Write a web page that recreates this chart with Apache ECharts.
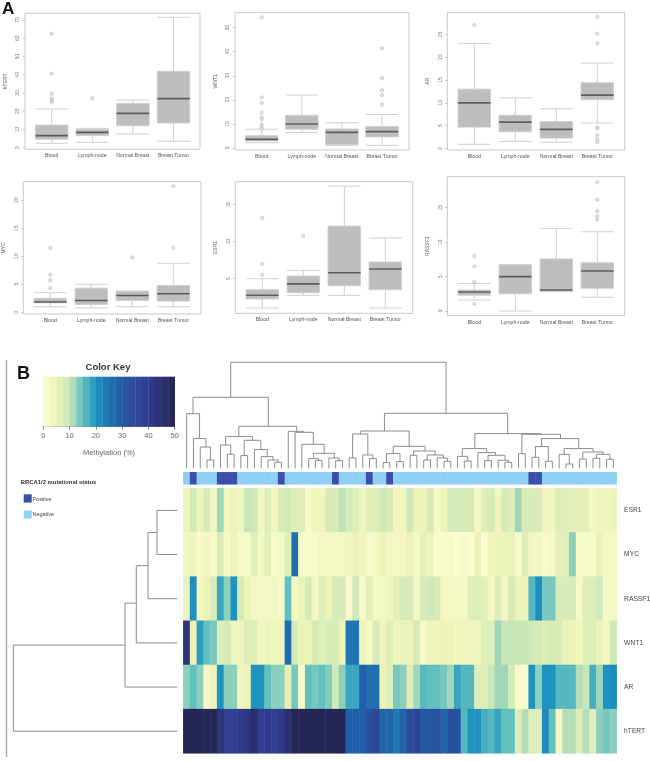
<!DOCTYPE html>
<html>
<head>
<meta charset="utf-8">
<style>html,body{margin:0;padding:0;background:#fff}#chart{width:650px;height:761px}</style>
<script src="https://cdn.jsdelivr.net/npm/echarts@6/dist/echarts.min.js"></script>
</head>
<body>
<div id="chart"></div>
<script>
// ---------- Panel A: boxplots ([low whisker, q1, median, q3, high whisker]) ----------
const tissues = ['Blood', 'Lymph-node', 'Normal Breast', 'Breast Tumor'];

const htertBox = [[2.4,4.6,6.6,12.4,21.2],[2.9,6.6,8.4,9.9,10.6],[7.5,12,18.8,24.3,26.1],[3.5,13.5,26.9,41.9,71.5]];
const htertOut = [[0,62.5],[0,40.6],[0,29.6],[0,27],[0,26],[0,25],[1,27]];
const htertTicks = [0,10,20,30,40,50,60,70];

const wnt1Box = [[2.2,3,3.6,5.1,7.8],[6.4,7.8,10,13.6,22],[1.1,1.5,6.5,7.9,10.5],[1.1,4.6,6.8,8.9,13.9]];
const wnt1Out = [[0,54.3],[0,21],[0,18.7],[0,14.7],[0,12.7],[0,12],[0,9.8],[0,8.9],[0,8],[3,41.4],[3,29],[3,24],[3,22],[3,18]];
const wnt1Ticks = [0,10,20,30,40,50];

const arBox = [[0.95,4.7,10,13,23],[1.6,3.7,5.8,7.3,11.1],[1.4,2.3,4.2,5.9,8.7],[5.6,10.7,11.7,14.4,18.7]];
const arOut = [[0,27],[3,28.8],[3,25.1],[3,23],[3,4.6],[3,4.4],[3,2.9],[3,2],[3,1.4]];
const arTicks = [0,5,10,15,20,25];

const mycBox = [[1,1.7,1.85,2.5,3.5],[0.8,1.4,2.1,4.3,5],[1,2.1,3,3.75,3.8],[1,2,3.3,4.8,8.75]];
const mycOut = [[0,11.5],[0,6.7],[0,5.7],[0,4.3],[2,9.8],[3,22.5],[3,11.5]];
const mycTicks = [0,5,10,15,20];

const esr1Box = [[1.04,2.25,2.75,3.5,5],[2.75,3.1,4.3,5.35,6.1],[2.75,4.05,5.8,12.1,17.5],[1.04,3.5,6.3,7.25,10.5]];
const esr1Out = [[0,13.2],[0,7],[0,5.5],[1,10.8]];
const esr1Ticks = [5,10,15];

const rassf1Box = [[1.6,2.3,2.75,3.05,4],[0,2.5,5,6.7,6.7],[2.8,2.9,3.05,7.55,12],[2,3.3,5.8,7,11.5]];
const rassf1Out = [[0,8],[0,6.5],[0,4.2],[0,1.05],[3,18.7],[3,16.15],[3,14.5],[3,13.75],[3,13.25]];
const rassf1Ticks = [0,5,10,15];

// ---------- Panel B: heatmap values by gene (methylation %, 64 samples) ----------
const geneNames = ['ESR1','MYC','RASSF1','WNT1','AR','hTERT'];
const esr1Row = [5,9,5,8,4,12,3,5,4,10,9,4,7,4,8,9,7,7,2,4,4,8,8,10.5,8,7,4,7,7,9,8,4,
                 4,9,5,5,8,2,5,8,8,8,8,3,7,8,4,8,7,12,8,8,8,4,4,7,7,6,6,6,3,4,4,5];
const mycRow = [3,4,2,3,2,8,2,5,2,2,7,3,6,2,3,7,26,2,1.5,1.5,3,3,3,3,4,5,4,2,3,5,3,3,
                3,5,3,6,5,1,1,2,1,1.5,1,5,1,4,5,5,5,1.5,7,3,3,2,3,6,7,13,2,2,2,5,3,3];
const rassf1Row = [5,21,3,5,8,18,13,20,8,5,3,3,3,3,2,15,3,5,8,3,7,5,8,8,1.5,9,2,6,3,3,4,6,
                   8,8,3,8,9,8,3,3,3,3,7,7,6,3,7,3,8,5,5,16,21,14,14,8,8,8,2,7,7,9,3,3];
const wnt1Row = [43,5,19,15,14,7,8,4,4,7,7,4,5,4,4,26,8,5,5,8,7,8,8,5,25,25,5,3,8,4,7,4,
                 5,5,8,2,5,4.5,5,5,4,4,4,4,7,7,12,10,10,10,10,9,8,7,8,8,5,5,4,7,7,5,3,9];
const arRow = [13,15,13,3,5,20,13,13,4,5,20,20,15,13,13,6,14,1.5,15,14,15,13.5,9,13,18,18,29,26,26,5,7,14,
               13,7,12,16,15,15,14,12,18,16,16,7,7,10,12,12,8,1.5,1.5,20,13,20,20,16,16,16,11,10,17,12,20,21];
const htertRow = [50,50,50,50,50,43,38,38,41,42,46,38,40,38,41,45,50,50,50,50,50,50,50,50,29,29,29,33,36,28,28,24,
                  28,34,36,31,31,33,28,33,32,16,20,20,17,16,18,15,15,7,11,7,7,22,15,3,11,11,7,11,7,13,14,13];
const brcaStatus = [0,1,0,0,0,1,1,1,0,0,0,0,0,0,1,0,0,0,0,0,0,0,1,0,0,0,0,1,0,0,1,0,
                    0,0,0,0,0,0,0,0,0,0,0,0,0,0,0,0,0,0,0,1,1,0,0,0,0,0,0,0,0,0,0,0];

// colour key
const keyStops = ['#fdfdd3','#ecf3b8','#c9e6b8','#62c0bf','#1f93c0','#1f74b2','#225aa5','#30479b','#2f3c8e','#2b3070','#262656'];
const keyTicks = [0,10,20,30,40,50];
const keyBinLows = [0,2.5,5,7.5,10,12.5,15,17.5,20,22.5,25,27.5,30,32.5,35,37.5,40,42.5,45,47.5];

// dendrograms: each merge is [left pos, left height, right pos, right height, merge height]
const sampleMerges = [
 [7,71,38.8,55,106],[1.43,54.7,12.56,42,71],[0.5,0,2.4,29.7,54.7],[1.5,0,3.35,21.3,29.7],[2.5,0,4,8.3,21.3],[3.5,0,4.5,0,8.3],
 [8.2,31.7,16.75,37,42],[6.25,23.3,10.2,28,31.7],[5.5,0,7,14,23.3],[6.5,0,7.5,0,14],[9,12.7,11.45,18.7,28],[8.5,0,9.5,0,12.7],
 [10.5,0,12.4,11.7,18.7],[11.5,0,13.25,8.3,11.7],[12.5,0,14,6,8.3],[13.5,0,14.5,0,6],
 [15.5,0,17.8,36,37],[16.5,0,19.2,24,36],[17.5,0,20.8,15,24],[19.25,9.7,22.3,10.3,15],[18.5,0,20,7.7,9.7],[19.5,0,20.5,0,7.7],[21.5,0,23,7.7,10.3],[22.5,0,23.5,0,7.7],
 [29.7,37.3,47.9,34.7,55],[26.2,34.3,33.35,22,37.3],[25,10.3,27.25,13.3,34.3],[24.5,0,25.5,0,10.3],[26.5,0,28,9.7,13.3],[27.5,0,28.5,0,9.7],
 [31,14.7,35.7,17.3,22],[30,5.7,32,6.7,14.7],[29.5,0,30.5,0,5.7],[31.5,0,32.5,0,6.7],[34,13,37.2,13.3,17.3],[33.5,0,34.5,0,13],
 [36,8.3,38.4,10.3,13.3],[35.5,0,36.5,0,8.3],[37.5,0,39,7,10.3],[38.5,0,39.5,0,7],
 [43.05,19.7,52.7,34,34.7],[41.2,12,44.8,15.7,19.7],[40.5,0,42,7.3,12],[41.5,0,42.5,0,7.3],[43.5,0,46.1,13,15.7],[45,7.7,47.5,8,13],
 [44.5,0,45.5,0,7.7],[46.5,0,48,6,8],[47.5,0,48.5,0,6],
 [50,14.7,55.7,29.7,34],[49.5,0,50.5,0,14.7],[52.9,21.7,58.4,19.7,29.7],[52,11,53.9,7,21.7],[51.5,0,52.5,0,11],[53.5,0,54.5,0,7],
 [56.25,14,60.5,16.3,19.7],[55.5,0,57,4.3,14],[56.5,0,57.5,0,4.3],[59,9.3,62,14,16.3],[58.5,0,59.5,0,9.3],[61,10,63,9,14],[60.5,0,61.5,0,10],[62.5,0,63.5,0,9]
];
const geneMerges = [[0.5,0,1.5,0,20.3],[1,20.3,2.5,0,29.3],[1.75,29.3,3.5,0,41],[2.6,41,4.5,0,52.3],[3.55,52.3,5.5,0,164]];

// ---------- Layout ----------
const FONT = '"Liberation Sans", Arial, sans-serif';
const panels = [
 {name:'hTERT', box:htertBox, out:htertOut, ticks:htertTicks, min:-0.9, max:73.7, frame:[25,200,13.3,149.3], c1:51.7, band:40.6, w:32.5},
 {name:'WNT1', box:wnt1Box, out:wnt1Out, ticks:wnt1Ticks, min:-0.83, max:56.2, frame:[235,409,12.7,150], c1:261.7, band:40.1, w:32.5},
 {name:'AR', box:arBox, out:arOut, ticks:arTicks, min:-0.3, max:29.7, frame:[447.3,624.7,12.7,150], c1:474.3, band:41, w:32.5},
 {name:'MYC', box:mycBox, out:mycOut, ticks:mycTicks, min:-0.3, max:23.3, frame:[23.3,201,181.7,314], c1:50.3, band:41, w:32.5},
 {name:'ESR1', box:esr1Box, out:esr1Out, ticks:esr1Ticks, min:0.32, max:18.1, frame:[235.3,412.7,181.7,313.3], c1:262.3, band:41, w:32.5},
 {name:'RASSF1', box:rassf1Box, out:rassf1Out, ticks:rassf1Ticks, min:-0.68, max:19.5, frame:[447.3,624.7,176.7,315.7], c1:474.3, band:41, w:32.5}
];
const HM = {left:183.3, right:616.7, top:488.3, bottom:753.3};

const grids = [], xAxes = [], yAxes = [], series = [], graphics = [];
const addGrid = g => grids.push(Object.assign({outerBoundsMode:'none', containLabel:false}, g));
const GREY = '#777';

panels.forEach((p, i) => {
  const gl = p.c1 - p.band / 2;
  addGrid({left:gl, top:p.frame[2], width:p.band * 4, height:p.frame[3] - p.frame[2]});
  xAxes.push({type:'category', gridIndex:i, data:tissues,
    axisLine:{show:false}, axisTick:{alignWithLabel:true, length:2, lineStyle:{color:'#aaa', width:0.8}},
    axisLabel:{fontSize:5.2, color:'#555', fontFamily:FONT, margin:4, interval:0}});
  yAxes.push({type:'value', gridIndex:i, min:p.min, max:p.max, offset:gl - p.frame[0], splitLine:{show:false},
    axisLine:{show:false},
    axisTick:{show:true, length:2, customValues:p.ticks, lineStyle:{color:'#aaa', width:0.8}},
    axisLabel:{show:true, customValues:p.ticks, rotate:90, fontSize:4.8, color:GREY, fontFamily:FONT, margin:4.5},
    name:p.name, nameLocation:'middle', nameRotate:90, nameGap:17, nameTextStyle:{fontSize:5, color:'#555', fontFamily:FONT}});
  graphics.push({type:'rect', silent:true, z:1, shape:{x:p.frame[0], y:p.frame[2], width:p.frame[1]-p.frame[0], height:p.frame[3]-p.frame[2]},
    style:{fill:null, stroke:'#c9c9c9', lineWidth:1}});
  series.push({type:'boxplot', xAxisIndex:i, yAxisIndex:i, boxWidth:[p.w,p.w], data:p.box, silent:true, animation:false,
    itemStyle:{color:'#bdbdbd', borderColor:'#cfcfcf', borderWidth:1}});
  series.push({type:'custom', xAxisIndex:i, yAxisIndex:i, silent:true, animation:false, z:3,
    data:p.box.map((b, k) => [k, b[2]]), encode:{x:0, y:1},
    renderItem:(params, api) => {
      const c = api.coord([api.value(0), api.value(1)]);
      return {type:'line', shape:{x1:c[0]-p.w/2, y1:c[1], x2:c[0]+p.w/2, y2:c[1]}, style:{stroke:'#5c5c5c', lineWidth:1.6}};
    }});
  series.push({type:'scatter', xAxisIndex:i, yAxisIndex:i, data:p.out, symbol:'circle', symbolSize:3.2, silent:true, animation:false,
    itemStyle:{color:'#dedede', borderColor:'#b0b0b0', borderWidth:0.7}});
});

// heatmap grid (index 6)
const sampleIds = esr1Row.map((_, i) => 'S' + (i + 1));
const geneRows = [esr1Row, mycRow, rassf1Row, wnt1Row, arRow, htertRow];
const hmData = [];
geneRows.forEach((row, r) => row.forEach((v, c) => hmData.push([sampleIds[c], geneNames[r], v])));
addGrid({left:HM.left, top:HM.top, width:HM.right-HM.left, height:HM.bottom-HM.top});
xAxes.push({type:'category', gridIndex:6, data:sampleIds, show:false});
yAxes.push({type:'category', gridIndex:6, data:geneNames, inverse:true, position:'right',
  axisLine:{show:false}, axisTick:{show:false},
  axisLabel:{fontSize:6.7, color:'#444', fontFamily:FONT, margin:7.4}});
const heatIdx = series.length;
series.push({type:'heatmap', xAxisIndex:6, yAxisIndex:6, data:hmData, silent:true, animation:false, progressive:0});

// annotation bar (index 7)
addGrid({left:HM.left, top:472.3, width:HM.right-HM.left, height:12});
xAxes.push({type:'category', gridIndex:7, data:sampleIds, show:false});
yAxes.push({type:'category', gridIndex:7, data:['BRCA1/2'], show:false});
const annoIdx = series.length;
series.push({type:'heatmap', xAxisIndex:7, yAxisIndex:7, data:brcaStatus.map((v, i) => [sampleIds[i], 'BRCA1/2', v]), silent:true, animation:false, progressive:0});

// colour key (index 8)
addGrid({left:43.3, top:376.7, width:131.4, height:50});
xAxes.push({type:'value', gridIndex:8, min:0, max:50, interval:10, splitLine:{show:false},
  axisLine:{show:true, lineStyle:{color:'#666', width:0.8}}, axisTick:{show:true, length:3, lineStyle:{color:'#666', width:0.8}},
  axisLabel:{fontSize:7.5, color:'#666', fontFamily:FONT, margin:5, customValues:keyTicks},
  name:'Methylation (%)', nameLocation:'middle', nameGap:22, nameTextStyle:{fontSize:7.5, color:'#666', fontFamily:FONT}});
yAxes.push({type:'value', gridIndex:8, min:0, max:1, show:false});
const keyIdx = series.length;
series.push({type:'custom', xAxisIndex:8, yAxisIndex:8, silent:true, animation:false,
  data:keyBinLows.map(lo => [lo, lo + 2.5, lo + 1.25]), encode:{x:[0,1]},
  renderItem:(params, api) => {
    const a = api.coord([api.value(0), 1]), b = api.coord([api.value(1), 0]);
    return {type:'rect', shape:{x:a[0], y:a[1], width:b[0]-a[0]+0.3, height:b[1]-a[1]}, style:{fill:api.visual('color')}};
  }});

// sample dendrogram (index 9)
addGrid({left:HM.left, top:362.3, width:HM.right-HM.left, height:106});
xAxes.push({type:'value', gridIndex:9, min:0, max:64, show:false});
yAxes.push({type:'value', gridIndex:9, min:0, max:106, show:false});
series.push({type:'custom', xAxisIndex:9, yAxisIndex:9, silent:true, animation:false, data:sampleMerges, clip:false,
  renderItem:(params, api) => {
    const [xl,hl,xr,hr,h] = [0,1,2,3,4].map(d => api.value(d));
    const p1 = api.coord([xl,hl]), p2 = api.coord([xl,h]), p3 = api.coord([xr,h]), p4 = api.coord([xr,hr]);
    return {type:'polyline', shape:{points:[p1,p2,p3,p4]}, style:{fill:null, stroke:'#8c8c8c', lineWidth:1}};
  }});

// gene dendrogram (index 10)
addGrid({left:13.3, top:HM.top, width:164, height:HM.bottom-HM.top});
xAxes.push({type:'value', gridIndex:10, min:0, max:164, inverse:true, show:false});
yAxes.push({type:'value', gridIndex:10, min:0, max:6, inverse:true, show:false});
series.push({type:'custom', xAxisIndex:10, yAxisIndex:10, silent:true, animation:false, data:geneMerges, clip:false,
  renderItem:(params, api) => {
    const [yt,ht,yb,hb,h] = [0,1,2,3,4].map(d => api.value(d));
    const p1 = api.coord([ht,yt]), p2 = api.coord([h,yt]), p3 = api.coord([h,yb]), p4 = api.coord([hb,yb]);
    return {type:'polyline', shape:{points:[p1,p2,p3,p4]}, style:{fill:null, stroke:'#8c8c8c', lineWidth:1}};
  }});

// page furniture: letters, key title, mutation legend, side rule
const txt = (x, y, text, size, weight, color, align) => ({type:'text', silent:true, x, y,
  style:{text, fontSize:size, fontWeight:weight||'normal', fill:color||'#333', fontFamily:FONT, align:align||'left', verticalAlign:'middle'}});
graphics.push(
  txt(2, 9, 'A', 17, 'bold', '#111'),
  txt(17, 374, 'B', 18, 'bold', '#111'),
  txt(108, 367.5, 'Color Key', 9.5, 'bold', '#333', 'center'),
  txt(20.7, 482.3, 'BRCA1/2 mutational status', 5.9, 'bold', '#333'),
  {type:'rect', silent:true, shape:{x:23.7, y:494.3, width:8, height:8.3}, style:{fill:'#3a50a8'}},
  txt(32.6, 499.8, 'Positive', 5.4, 'normal', '#444'),
  {type:'rect', silent:true, shape:{x:23.7, y:510.5, width:8, height:8}, style:{fill:'#8fcff3'}},
  txt(32.6, 515, 'Negative', 5.4, 'normal', '#444'),
  {type:'line', silent:true, shape:{x1:6.5, y1:360, x2:6.5, y2:757}, style:{stroke:'#a6a6a6', lineWidth:1.4}}
);

const chart = echarts.init(document.getElementById('chart'), null, {renderer:'canvas'});
chart.setOption({
  backgroundColor:'#fff', animation:false,
  grid:grids, xAxis:xAxes, yAxis:yAxes, series,
  visualMap:[
    {type:'continuous', show:false, min:0, max:50, dimension:2, seriesIndex:[heatIdx, keyIdx], inRange:{color:keyStops}},
    {type:'piecewise', show:false, dimension:2, seriesIndex:[annoIdx], pieces:[{value:0, color:'#8fcff3'},{value:1, color:'#3a50a8'}]}
  ],
  graphic:{elements:graphics}
});
</script>
</body>
</html>
